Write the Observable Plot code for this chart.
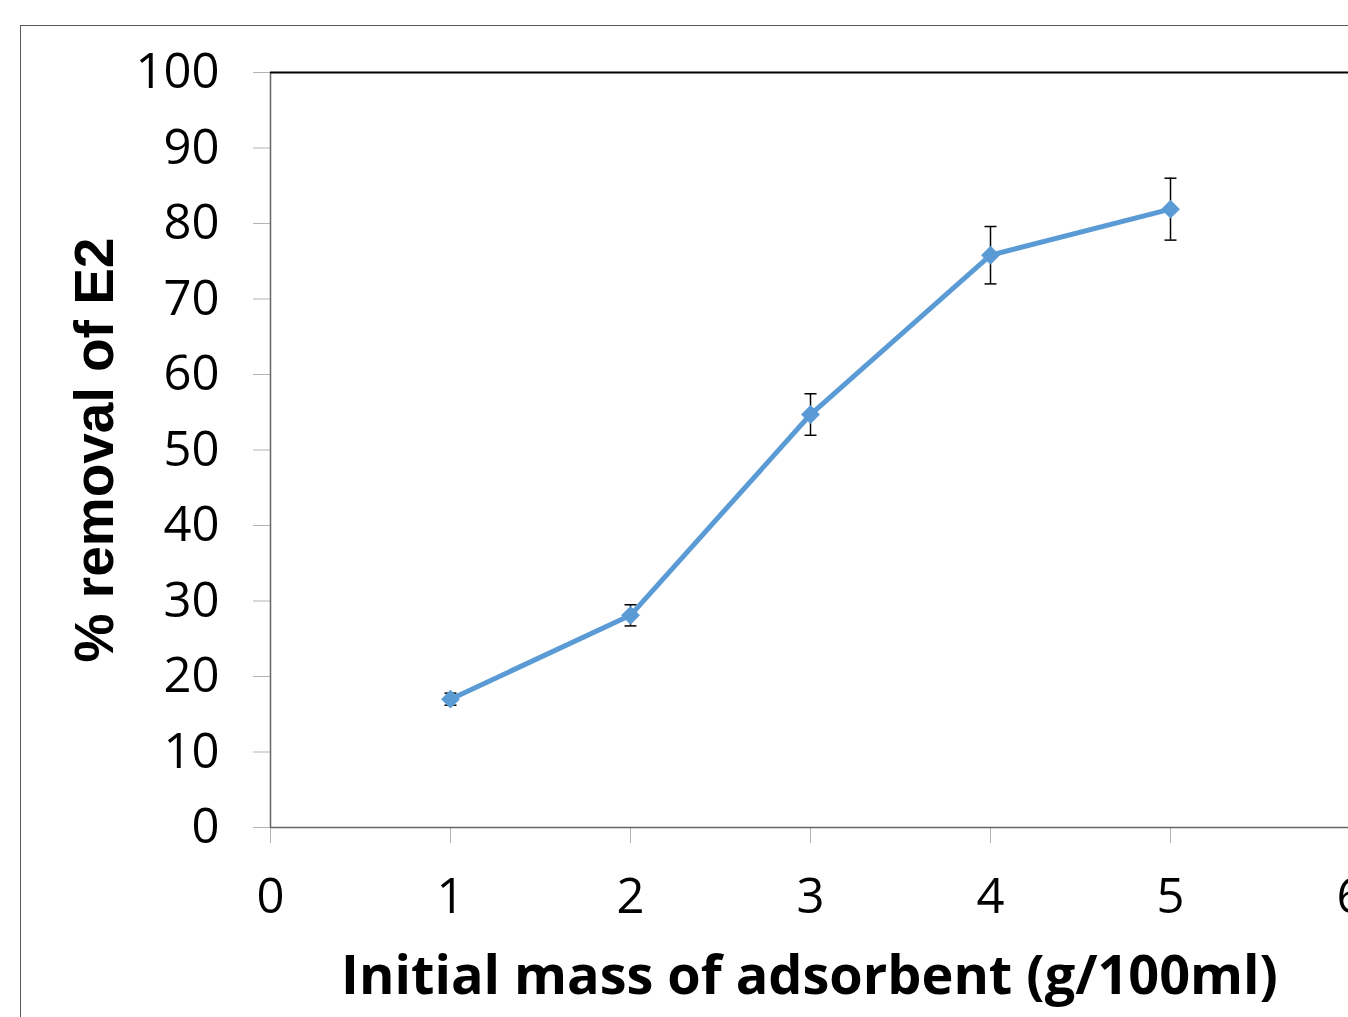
<!DOCTYPE html>
<html>
<head>
<meta charset="utf-8">
<script src="https://cdn.jsdelivr.net/npm/d3@7"></script>
<script src="https://cdn.jsdelivr.net/npm/@observablehq/plot@0.6"></script>
<style>
  html, body { margin: 0; padding: 0; overflow: hidden; background: white; }
  #wrap { position: relative; width: 1348px; height: 1017px; overflow: hidden; }
  #border { position: absolute; left: 20px; top: 25px; width: 2000px; height: 2000px;
            border: 1.5px solid #595959; pointer-events: none; }
  #chart { position: absolute; left: 0; top: 0; }
</style>
</head>
<body>
<div id="wrap">
  <div id="chart"></div>
  <div id="border"></div>
</div>
<script>
// Data
const mass = [1, 2, 3, 4, 5];                       // g/100ml
const removal = [17.0, 28.1, 54.7, 75.8, 81.9];     // % removal of E2
const errorBar = [0.8, 1.4, 2.75, 3.8, 4.1];        // ± error
const xTicks = [0, 1, 2, 3, 4, 5, 6];
const yTicks = [0, 10, 20, 30, 40, 50, 60, 70, 80, 90, 100];
const xTitle = "Initial mass of adsorbent (g/100ml)";
const yTitle = "% removal of E2";

const data = mass.map((m, i) => ({x: m, y: removal[i], lo: removal[i] - errorBar[i], hi: removal[i] + errorBar[i]}));

const capSymbol = {
  draw(ctx) { ctx.moveTo(-6, 0); ctx.lineTo(6, 0); }
};

const tickFont = "'Open Sans', sans-serif";

const chart = Plot.plot({
  width: 1348,
  height: 1017,
  marginLeft: 270,
  marginTop: 72,
  marginBottom: 190,
  marginRight: 0,
  style: {background: "transparent", overflow: "visible"},
  x: {domain: [0, 6], range: [270, 1350]},
  y: {domain: [0, 100], range: [827, 72]},
  marks: [
    Plot.axisY({ticks: yTicks, tickSize: 17, tickPadding: 34, stroke: "#b3b3b3", fill: "black",
      fontSize: 49, fontFamily: tickFont, label: null, tickFormat: d => String(d)}),
    Plot.axisX({ticks: xTicks, tickSize: 16, tickPadding: 35, stroke: "#b3b3b3", fill: "black",
      fontSize: 49, fontFamily: tickFont, label: null, tickFormat: d => String(d)}),
    Plot.ruleX([0], {stroke: "#666666", strokeWidth: 1.5}),
    Plot.ruleY([0], {stroke: "#666666", strokeWidth: 1.5}),
    Plot.ruleY([100], {stroke: "black", strokeWidth: 2}),
    Plot.ruleX([6], {stroke: "black", strokeWidth: 2}),
    Plot.ruleX(data, {x: "x", y1: "lo", y2: "hi", stroke: "black", strokeWidth: 1.5}),
    Plot.dot(data, {x: "x", y: "lo", symbol: capSymbol, r: 6, stroke: "black", strokeWidth: 1.5, fill: "none"}),
    Plot.dot(data, {x: "x", y: "hi", symbol: capSymbol, r: 6, stroke: "black", strokeWidth: 1.5, fill: "none"}),
    Plot.line(data, {x: "x", y: "y", stroke: "#5b9bd5", strokeWidth: 5}),
    Plot.dot(data, {x: "x", y: "y", symbol: "diamond2", r: 8.5, fill: "#5b9bd5", stroke: "none"}),
    Plot.text([xTitle], {frameAnchor: "bottom", dy: 166, text: d => d, fontSize: 54, fontWeight: "bold",
      fontFamily: tickFont, fill: "black"}),
    Plot.text([yTitle], {frameAnchor: "left", dx: -175, rotate: -90, textAnchor: "middle", text: d => d,
      fontSize: 55, fontWeight: "bold", fontFamily: "'Liberation Sans', Arial, sans-serif", fill: "black"})
  ]
});
document.getElementById("chart").appendChild(chart);
</script>
</body>
</html>
